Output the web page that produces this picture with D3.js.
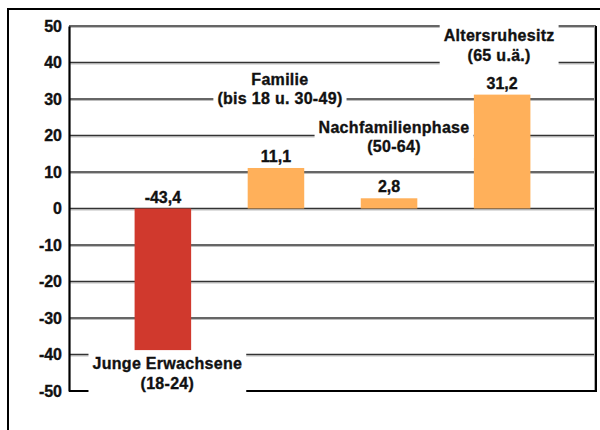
<!DOCTYPE html>
<html>
<head>
<meta charset="utf-8">
<script src="https://cdn.jsdelivr.net/npm/d3@7"></script>
<style>
  html, body { margin: 0; padding: 0; background: #fff; }
  svg { display: block; }
  text { font-family: "Liberation Sans", Arial, Helvetica, sans-serif; font-weight: bold; fill: #111; stroke: #111; stroke-width: 0.35px; }
</style>
</head>
<body>
<svg id="chart" width="600" height="430"></svg>
<script>
// Wanderungssaldo nach Lebensphase
const phases = ["Junge Erwachsene", "Familie", "Nachfamilienphase", "Altersruhesitz"];
const phaseSubtitles = ["(18-24)", "(bis 18 u. 30-49)", "(50-64)", "(65 u.ä.)"];
const saldo = [-43.4, 11.1, 2.8, 31.2];
const yTicks = [-50, -40, -30, -20, -10, 0, 10, 20, 30, 40, 50];

// Placement of the two-line phase captions (first baseline, in axis units) and horizontal nudge
const captionY = [-44.0, 33.9, 20.8, 45.8];
const captionDx = [4.5, 4, 5, -3];

const svg = d3.select("#chart");
const plot = { left: 69, right: 596, top: 26, bottom: 391 };

const x = d3.scaleBand()
  .domain(phases)
  .range([plot.left, plot.right])
  .paddingInner(0.5)
  .paddingOuter(0.58);

const y = d3.scaleLinear()
  .domain([d3.min(yTicks), d3.max(yTicks)])
  .range([plot.bottom, plot.top]);

// German decimal comma, plain hyphen for negatives
const fmt = v => v.toFixed(1).replace(".", ",");

// outer frame
svg.append("rect")
  .attr("x", 8).attr("y", 9)
  .attr("width", 640).attr("height", 460)
  .attr("fill", "none")
  .attr("stroke", "#000")
  .attr("stroke-width", 2);

// grid lines with a light line underneath each
const grid = svg.append("g");
yTicks.filter(t => t !== d3.min(yTicks)).forEach(t => {
  grid.append("line")
    .attr("x1", plot.left).attr("x2", plot.right)
    .attr("y1", y(t) + 1.5).attr("y2", y(t) + 1.5)
    .attr("stroke", "#bdbdbd").attr("stroke-width", 1);
  grid.append("line")
    .attr("x1", plot.left).attr("x2", plot.right)
    .attr("y1", y(t)).attr("y2", y(t))
    .attr("stroke", "#333").attr("stroke-width", 1.3);
});

// right border
svg.append("line")
  .attr("x1", plot.right - 1.5).attr("x2", plot.right - 1.5)
  .attr("y1", plot.top).attr("y2", plot.bottom)
  .attr("stroke", "#aaa").attr("stroke-width", 1);
svg.append("line")
  .attr("x1", plot.right).attr("x2", plot.right)
  .attr("y1", plot.top).attr("y2", plot.bottom + 1)
  .attr("stroke", "#000").attr("stroke-width", 2);

// bottom line
svg.append("line")
  .attr("x1", plot.left).attr("x2", plot.right + 1)
  .attr("y1", y(-50)).attr("y2", y(-50))
  .attr("stroke", "#000").attr("stroke-width", 2.2);

// bars
svg.append("g").selectAll("rect")
  .data(phases)
  .join("rect")
  .attr("x", d => x(d))
  .attr("width", x.bandwidth())
  .attr("y", (d, i) => y(Math.max(0, saldo[i])))
  .attr("height", (d, i) => Math.abs(y(saldo[i]) - y(0)))
  .attr("fill", (d, i) => saldo[i] < 0 ? "#D0392D" : "#FFB05A");

// value labels
svg.append("g").selectAll("text")
  .data(phases)
  .join("text")
  .attr("x", d => x(d) + x.bandwidth() / 2)
  .attr("y", (d, i) => y(Math.max(0, saldo[i])) - 6)
  .attr("text-anchor", "middle")
  .style("font-size", "16px")
  .text((d, i) => fmt(saldo[i]));

// phase captions on white boxes
const caps = svg.append("g");
phases.forEach((p, i) => {
  const cx = x(p) + x.bandwidth() / 2 + captionDx[i];
  const g = caps.append("g");
  const box = g.append("rect").attr("fill", "#fff").style("stroke", "none");
  const t = g.append("text")
    .attr("text-anchor", "middle")
    .style("font-size", "16px")
    .style("letter-spacing", "0.3px");
  t.append("tspan").attr("x", cx).attr("y", y(captionY[i])).text(p);
  t.append("tspan").attr("x", cx).attr("dy", 19.5).text(phaseSubtitles[i]);
  const bb = t.node().getBBox();
  box.attr("x", bb.x - 4).attr("y", bb.y - 5)
     .attr("width", bb.width + 8).attr("height", bb.height + 8);
});

// y axis
const yAxis = d3.axisLeft(y)
  .tickValues(yTicks)
  .tickFormat(d => String(d))
  .tickSize(0)
  .tickPadding(7);
const ag = svg.append("g").attr("transform", `translate(${plot.left},0)`).call(yAxis);
ag.select(".domain").attr("stroke", "#000").attr("stroke-width", 2.2);
ag.selectAll("text")
  .style("font-size", "16px")
  .style("font-family", "\"Liberation Sans\", Arial, sans-serif")
  .style("font-weight", "bold")
  .attr("fill", "#111");
</script>
</body>
</html>
